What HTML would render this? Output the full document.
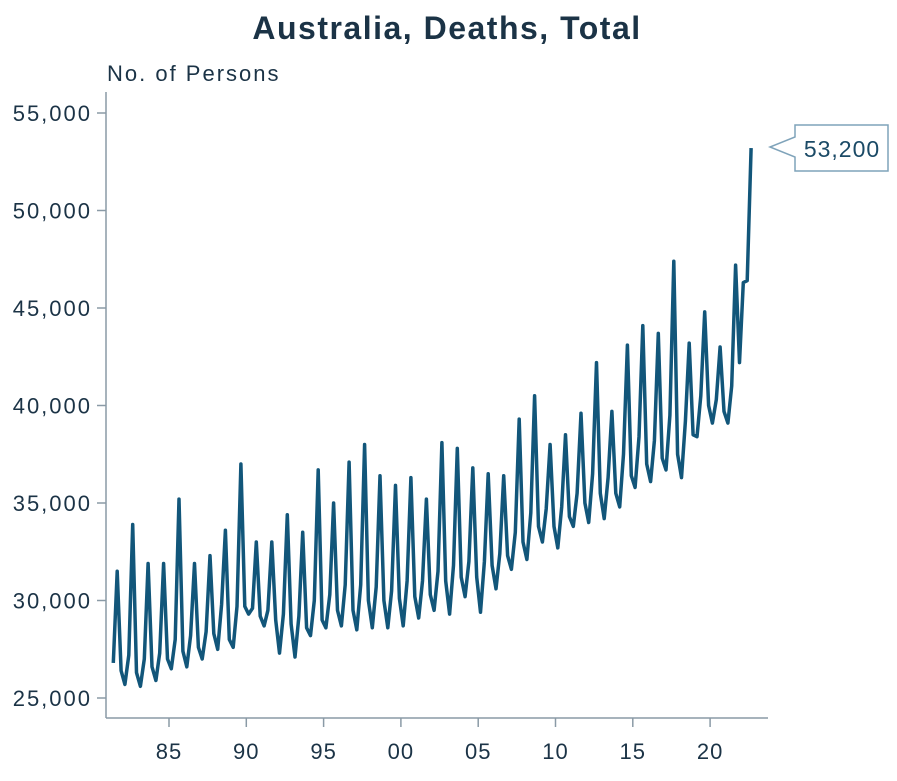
<!DOCTYPE html>
<html><head><meta charset="utf-8"><style>
body{margin:0;background:#fff;}
svg text{font-family:"Liberation Sans","DejaVu Sans",sans-serif;}
</style></head><body>
<svg width="897" height="776" viewBox="0 0 897 776" xmlns="http://www.w3.org/2000/svg">
<text x="447" y="39" text-anchor="middle" font-size="32" font-weight="bold" letter-spacing="1.5" fill="#1b3346">Australia, Deaths, Total</text>
<text x="107" y="81" font-size="22" letter-spacing="2" fill="#1b3346">No. of Persons</text>
<g id="axes"></g>
<g id="series"></g>
<g>
<path d="M795,125 H888 V171 H795 V157 L770,147 L795,137 Z" fill="#fff" stroke="#7fa3ba" stroke-width="1.5"/>
<text x="842" y="157" text-anchor="middle" font-size="23" letter-spacing="1" fill="#1b4a66">53,200</text>
</g>
</svg>
<script>
const startYear = 1981.4;
const values = [
26800,31500,26400,
25700,27200,33900,26300,
25600,27000,31900,26600,
25900,27300,31900,27000,
26500,28000,35200,27400,
26600,28200,31900,27600,
27000,28400,32300,28300,
27500,29800,33600,28000,
27600,29700,37000,29700,
29300,29600,33000,29200,
28700,29500,33000,29000,
27300,29300,34400,28800,
27100,29200,33500,28600,
28200,30000,36700,29000,
28600,30300,35000,29500,
28700,30800,37100,29500,
28500,30800,38000,30000,
28600,30700,36400,30000,
28600,30500,35900,30100,
28700,31000,36300,30200,
29100,31000,35200,30300,
29500,31500,38100,31000,
29300,31800,37800,31200,
30200,32000,36800,31200,
29400,32000,36500,31800,
30600,32400,36400,32300,
31600,33500,39300,33000,
32100,34500,40500,33800,
33000,34700,38000,33800,
32700,34800,38500,34300,
33800,35500,39600,35000,
34000,36500,42200,35500,
34200,36300,39700,35500,
34800,37500,43100,36400,
35800,38400,44100,37000,
36100,38200,43700,37300,
36700,39500,47400,37500,
36300,39200,43200,38500,
38400,40500,44800,40000,
39100,40300,43000,39700,
39100,41000,47200,42200,
46300,46400,53200
];
const yTicks = [25000,30000,35000,40000,45000,50000,55000];
const xTicks = [1985,1990,1995,2000,2005,2010,2015,2020];
const xTickLabels = ["85","90","95","00","05","10","15","20"];

const NS="http://www.w3.org/2000/svg";
function X(yr){return 169+(yr-1985)*15.46;}
function Y(v){return 698-(v-25000)*0.0195;}
function mk(tag,attrs,parent){const e=document.createElementNS(NS,tag);for(const k in attrs)e.setAttribute(k,attrs[k]);parent.appendChild(e);return e;}
const axes=document.getElementById('axes');
const yAxis=mk('line',{x1:106,y1:92,x2:106,y2:718,stroke:'#8a9aa6','stroke-width':1.5},axes);


const xAxis=mk('line',{x1:106,y1:718,x2:768,y2:718,stroke:'#8a9aa6','stroke-width':1.5},axes);


yTicks.forEach(v=>{
  mk('line',{x1:97,y1:Y(v),x2:106,y2:Y(v),stroke:'#8a9aa6','stroke-width':1.5},axes);
  const t=mk('text',{x:92,y:Y(v)+8,'text-anchor':'end','font-size':22,'letter-spacing':2,fill:'#1b3346'},axes);
  t.textContent=v.toLocaleString('en-US');
  
  
});
xTicks.forEach((yr,i)=>{
  mk('line',{x1:X(yr),y1:718,x2:X(yr),y2:727,stroke:'#8a9aa6','stroke-width':1.5},axes);
  const t=mk('text',{x:X(yr),y:759,'text-anchor':'middle','font-size':22,'letter-spacing':1,fill:'#1b3346'},axes);
  t.textContent=xTickLabels[i];
  
  
});
const pts=values.map((v,i)=>X(startYear+i*0.25).toFixed(1)+','+Y(v).toFixed(1)).join(' ');
const line=mk('polyline',{points:pts,fill:'none',stroke:'#12567a','stroke-width':3.5,'stroke-linejoin':'round'},document.getElementById('series'));


</script>
</body></html>
